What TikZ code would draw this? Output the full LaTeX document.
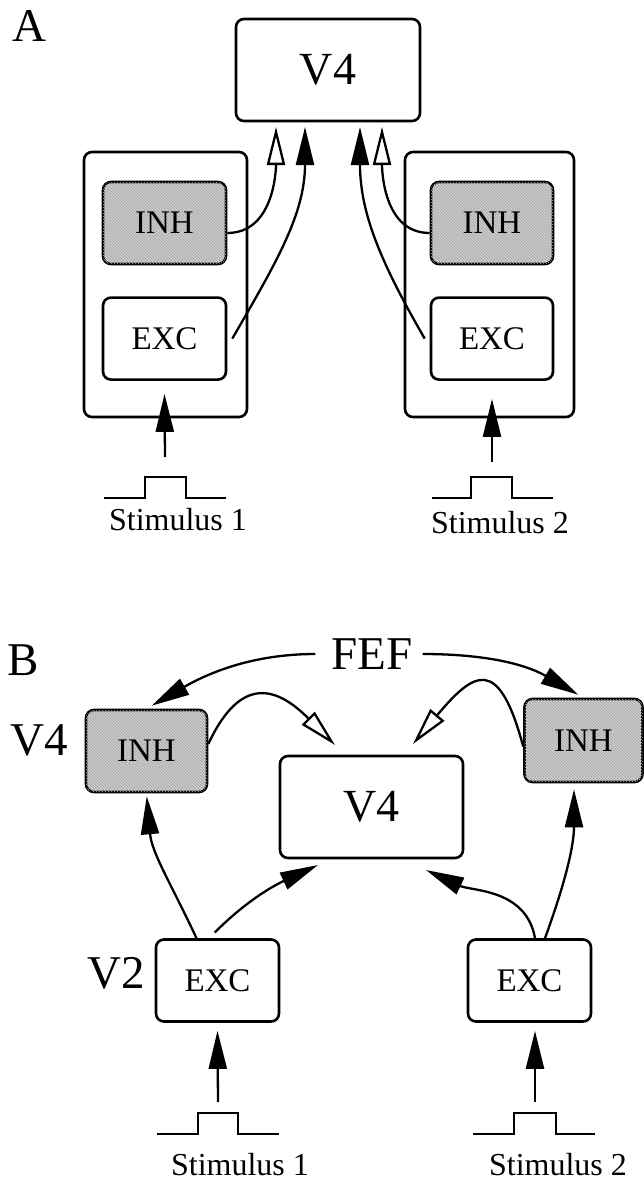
\documentclass[tikz,border=0pt]{standalone}
\usepackage{fontspec}
\setmainfont{Liberation Serif}
\usetikzlibrary{arrows.meta,positioning,patterns}
\tikzset{
  areabox/.style={draw, rounded corners=8pt, line width=2.6pt, fill=white, minimum width=184pt, minimum height=102pt, font=\fontsize{46}{50}\selectfont},
  groupbox/.style={draw, rounded corners=8pt, line width=2.6pt, minimum width=165pt, minimum height=265pt},
  excbox/.style={draw, rounded corners=8pt, line width=2.6pt, fill=white, minimum width=123pt, minimum height=82pt, font=\fontsize{33}{36}\selectfont},
  inhbox/.style={excbox, fill=black!20, postaction={pattern=north west lines, pattern color=black!35}},
  arealabel/.style={font=\fontsize{47}{50}\selectfont, inner sep=0pt},
  stimlabel/.style={font=\fontsize{32}{36}\selectfont, inner sep=0pt},
  exarrow/.style={-{Triangle[length=38pt,width=18pt]}, line width=2.3pt},
  inarrow/.style={-{Triangle[open,length=38pt,width=18pt]}, line width=2.3pt},
  pulse/.style={line width=2.6pt}
}
\begin{document}
\begin{tikzpicture}[x=1pt, y=1pt, node distance=31pt]
  \fill[white] (0,0) rectangle (644,-1181);
  \useasboundingbox (0,0) rectangle (644,-1181);

  \node[arealabel] (labA) at (29,-26) {A};
  \node[areabox] (v4a) at (328,-70) {V4};
  \node[groupbox, minimum width=163pt] (grpl) at (165.5,-284.5) {};
  \node[inhbox] (inhl) at (164.5,-223) {INH};
  \node[excbox, below=of inhl] (excl) {EXC};
  \node[groupbox, minimum width=169pt] (grpr) at (489.5,-284.5) {};
  \node[inhbox, minimum width=122pt] (inhr) at (492,-223) {INH};
  \node[excbox, minimum width=122pt, below=of inhr] (excr) {EXC};

  \coordinate (a1) at (276,-127);
  \coordinate (a2) at (305,-127);
  \coordinate (a3) at (360,-127);
  \coordinate (a4) at (382,-127);
  \draw[inarrow] ([yshift=-10pt]inhl.east) to[out=0,in=-90] (a1);
  \draw[exarrow] ([xshift=5pt]excl.east) to[out=60,in=-90] (a2);
  \draw[exarrow] ([xshift=-5pt]excr.west) to[out=120,in=-90] (a3);
  \draw[inarrow] ([yshift=-10pt]inhr.west) to[out=180,in=-90] (a4);

  \coordinate (s1a) at (165,-457);
  \coordinate (s2a) at (492,-462);
  \draw[exarrow] (s1a) -- ([yshift=-13pt]excl.south);
  \draw[exarrow] (s2a) -- ([yshift=-18pt]excr.south);
  \draw[pulse] (104,-498) -- (145,-498) -- (145,-477) -- (186,-477) -- (186,-498) -- (226,-498);
  \draw[pulse] (432,-498) -- (471,-498) -- (471,-477) -- (512,-477) -- (512,-498) -- (553,-498);
  \node[stimlabel] (stim1a) at (178,-520) {Stimulus 1};
  \node[stimlabel] (stim2a) at (500,-523) {Stimulus 2};

  \node[arealabel] (labB) at (23,-660) {B};
  \node[arealabel] (fef) at (372,-654) {FEF};
  \node[arealabel] (v4lab) at (39,-740) {V4};
  \node[arealabel] (v2lab) at (116,-973) {V2};
  \node[inhbox, minimum width=121pt] (inhlb) at (146.5,-751) {INH};
  \node[areabox, minimum width=183pt] (v4b) at (371.5,-807) {V4};
  \node[inhbox, minimum width=118pt, minimum height=83pt] (inhrb) at (583.5,-740.5) {INH};
  \node[excbox] (exclb) at (217.5,-980.5) {EXC};
  \node[excbox] (excrb) at (529.5,-980.5) {EXC};

  \coordinate (b1) at (335,-745);
  \coordinate (b2) at (413,-744);
  \coordinate (b3) at (318,-865);
  \coordinate (b4) at (426,-870);
  \draw[exarrow, shorten <=16pt, shorten >=6pt] (fef.west) to[out=180,in=30] (inhlb.north);
  \draw[exarrow, shorten <=10pt, shorten >=6pt] (fef.east) to[out=0,in=150] (inhrb.north);
  \draw[inarrow] ([yshift=7pt]inhlb.east) to[out=65,in=135,looseness=1.6] (b1);
  \draw[inarrow] ([yshift=-6pt]inhrb.west) to[out=105,in=50,looseness=2.2] (b2);
  \draw[exarrow, shorten >=3pt] ([xshift=-21pt]exclb.north) to[out=115,in=-85] (inhlb.south);
  \draw[exarrow, shorten <=8pt] ([xshift=-8.5pt]exclb.north) to[out=45,in=205] (b3);
  \draw[exarrow] ([xshift=5.5pt]excrb.north) to[out=100,in=-25] (b4);
  \draw[exarrow, shorten >=6pt] ([xshift=15.5pt]excrb.north) to[out=70,in=-90] ([xshift=-9.5pt]inhrb.south);

  \coordinate (s1b) at (218,-1102);
  \coordinate (s2b) at (535,-1102);
  \draw[exarrow] (s1b) -- ([yshift=-8pt]exclb.south);
  \draw[exarrow] (s2b) -- ([xshift=5.5pt,yshift=-8pt]excrb.south);
  \draw[pulse] (157,-1134) -- (198,-1134) -- (198,-1113) -- (238,-1113) -- (238,-1134) -- (279,-1134);
  \draw[pulse] (473,-1134) -- (514,-1134) -- (514,-1113) -- (556,-1113) -- (556,-1134) -- (595,-1134);
  \node[stimlabel] (stim1b) at (240,-1165) {Stimulus 1};
  \node[stimlabel] (stim2b) at (558,-1165) {Stimulus 2};
\end{tikzpicture}
\end{document}
